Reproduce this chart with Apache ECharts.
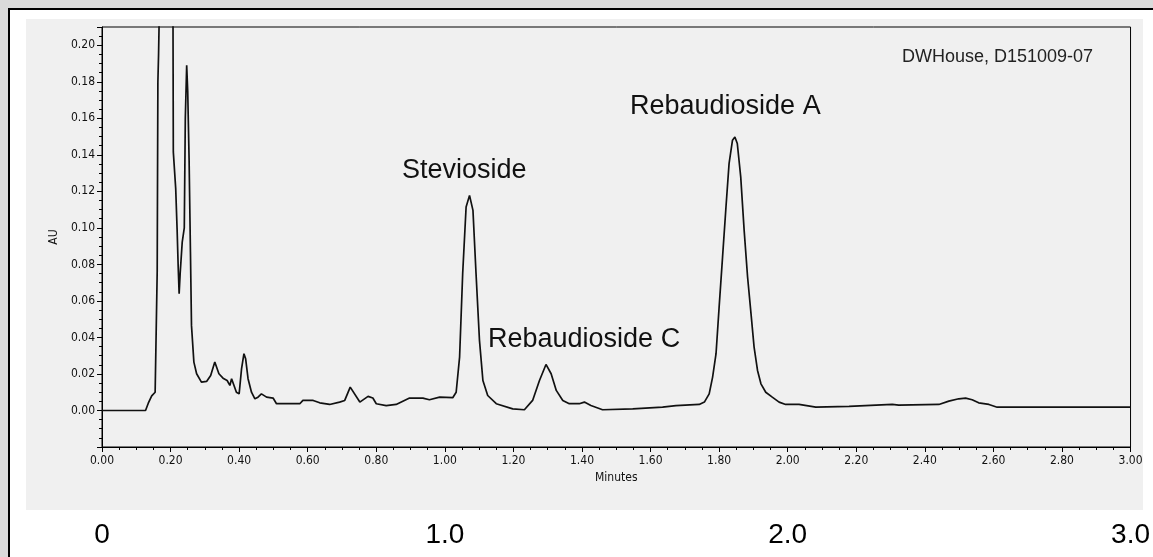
<!DOCTYPE html>
<html>
<head>
<meta charset="utf-8">
<script src="https://cdn.jsdelivr.net/npm/echarts@6/dist/echarts.min.js"></script>
<style>
  html, body { margin: 0; padding: 0; background: #fff; }
  #chart { width: 1153px; height: 557px; }
</style>
</head>
<body>
<div id="chart"></div>
<script>
// retention time (minutes) and detector response (AU)
var times = [0.000, 0.127, 0.135, 0.145, 0.155, 0.160, 0.161, 0.163, 0.165, 0.171, 0.185, 0.200, 0.207,
  0.208, 0.215, 0.219, 0.222, 0.225, 0.228, 0.234, 0.240, 0.243, 0.247, 0.250, 0.254, 0.258, 0.261,
  0.268, 0.276, 0.290, 0.305, 0.317, 0.329, 0.341, 0.353, 0.365, 0.373, 0.378, 0.382, 0.392, 0.400,
  0.407, 0.414, 0.419, 0.426, 0.436, 0.446, 0.455, 0.465, 0.480, 0.499, 0.509, 0.577, 0.586, 0.616,
  0.635, 0.664, 0.693, 0.708, 0.724, 0.752, 0.776, 0.790, 0.800, 0.829, 0.858, 0.888, 0.897, 0.936,
  0.955, 0.985, 1.023, 1.033, 1.043, 1.052, 1.062, 1.072, 1.082, 1.091, 1.101, 1.111, 1.125, 1.150,
  1.198, 1.232, 1.256, 1.276, 1.295, 1.310, 1.325, 1.344, 1.363, 1.392, 1.407, 1.426, 1.460, 1.548,
  1.635, 1.674, 1.742, 1.757, 1.771, 1.781, 1.791, 1.800, 1.810, 1.820, 1.829, 1.839, 1.846, 1.853,
  1.863, 1.873, 1.883, 1.893, 1.902, 1.912, 1.922, 1.936, 1.955, 1.975, 1.994, 2.033, 2.082, 2.179,
  2.305, 2.324, 2.441, 2.470, 2.499, 2.519, 2.538, 2.557, 2.587, 2.611, 3.000];
var au = [0.0000, 0.0000, 0.0040, 0.0080, 0.0100, 0.0110, 0.0760, 0.1800, 0.1950, 0.2600, 0.3500, 0.3000, 0.2200,
  0.1416, 0.1215, 0.0996, 0.0800, 0.0639, 0.0750, 0.0922, 0.1000, 0.1600, 0.1890, 0.1750, 0.1380, 0.0868, 0.0466,
  0.0265, 0.0201, 0.0155, 0.0159, 0.0192, 0.0265, 0.0201, 0.0177, 0.0164, 0.0137, 0.0174, 0.0164, 0.0100, 0.0091,
  0.0228, 0.0311, 0.0283, 0.0174, 0.0100, 0.0064, 0.0073, 0.0091, 0.0073, 0.0068, 0.0037, 0.0037, 0.0055, 0.0055,
  0.0042, 0.0033, 0.0046, 0.0055, 0.0128, 0.0046, 0.0077, 0.0068, 0.0037, 0.0027, 0.0033, 0.0060, 0.0068, 0.0068,
  0.0059, 0.0073, 0.0070, 0.0100, 0.0292, 0.0749, 0.1114, 0.1178, 0.1096, 0.0749, 0.0384, 0.0164, 0.0082, 0.0037,
  0.0009, 0.0004, 0.0055, 0.0164, 0.0252, 0.0201, 0.0110, 0.0055, 0.0037, 0.0037, 0.0046, 0.0027, 0.0004, 0.0009,
  0.0018, 0.0027, 0.0033, 0.0046, 0.0091, 0.0183, 0.0311, 0.0566, 0.0840, 0.1114, 0.1352, 0.1480, 0.1498, 0.1462,
  0.1279, 0.0986, 0.0731, 0.0530, 0.0347, 0.0219, 0.0146, 0.0100, 0.0073, 0.0046, 0.0033, 0.0033, 0.0018, 0.0022,
  0.0033, 0.0029, 0.0033, 0.0051, 0.0064, 0.0068, 0.0059, 0.0042, 0.0033, 0.0018, 0.0018];

var peakNames = ['Stevioside', 'Rebaudioside C', 'Rebaudioside A'];
var sampleName = 'DWHouse, D151009-07';
var bottomLabels = ['0', '1.0', '2.0', '3.0'];

var trace = [];
for (var i = 0; i < times.length; i++) {
  trace.push([times[i], au[i]]);
}

var tickFont = '"Liberation Sans Narrow", "DejaVu Sans Condensed", sans-serif';
var bigFont = '"Liberation Sans", Arial, sans-serif';

var myChart = echarts.init(document.getElementById('chart'));
var option = {
  animation: false,
  grid: {
    left: 102, right: 21, top: 27, bottom: 110,
    show: true, borderColor: '#000', borderWidth: 1, backgroundColor: 'transparent'
  },
  xAxis: [{
    type: 'value', min: 0, max: 3, interval: 0.2,
    name: 'Minutes', nameLocation: 'middle', nameGap: 22,
    nameTextStyle: { color: '#111', fontSize: 12, fontFamily: tickFont },
    axisLine: { onZero: false, lineStyle: { color: '#000', width: 1 } },
    axisTick: { length: 5, lineStyle: { color: '#000' } },
    minorTick: { show: true, splitNumber: 4, length: 3, lineStyle: { color: '#000' } },
    axisLabel: {
      margin: 8, color: '#111', fontSize: 12, fontFamily: tickFont,
      formatter: function (v) { return v.toFixed(2); }
    },
    splitLine: { show: false }
  }, {
    type: 'value', min: 0, max: 3, interval: 1, position: 'bottom', offset: 68,
    axisLine: { show: false, onZero: false }, axisTick: { show: false }, splitLine: { show: false },
    axisLabel: {
      margin: 6, color: '#000', fontSize: 28, fontFamily: bigFont,
      showMinLabel: true, showMaxLabel: true,
      formatter: function (v) { return bottomLabels[Math.round(v)]; }
    }
  }],
  yAxis: {
    type: 'value', min: -0.02, max: 0.21, interval: 0.02,
    name: 'AU', nameLocation: 'middle', nameGap: 37,
    nameTextStyle: { color: '#111', fontSize: 12, fontFamily: tickFont },
    axisLine: { show: true, onZero: false, lineStyle: { color: '#000', width: 1 } },
    axisTick: { length: 5, lineStyle: { color: '#000' } },
    minorTick: { show: true, splitNumber: 4, length: 3, lineStyle: { color: '#000' } },
    axisLabel: {
      margin: 7, color: '#111', fontSize: 12, fontFamily: tickFont,
      formatter: function (v) {
        if (v < -1e-9 || v > 0.2 + 1e-9) return '';
        return v.toFixed(2);
      }
    },
    splitLine: { show: false }
  },
  graphic: {
    elements: [
      { type: 'rect', z: -100, shape: { x: 0, y: 0, width: 1153, height: 557 }, style: { fill: '#dadada' } },
      { type: 'rect', z: -99, shape: { x: 9, y: 9, width: 1160, height: 560 },
        style: { fill: '#fff', stroke: '#000', lineWidth: 2 } },
      { type: 'rect', z: -98, shape: { x: 26, y: 19, width: 1117, height: 491 }, style: { fill: '#f0f0f0' } },
      { type: 'text', z: 100, x: 402, y: 171,
        style: { text: peakNames[0], font: '27px ' + bigFont, fill: '#111', verticalAlign: 'middle' } },
      { type: 'text', z: 100, x: 488, y: 340,
        style: { text: peakNames[1], font: '27px ' + bigFont, fill: '#111', verticalAlign: 'middle' } },
      { type: 'text', z: 100, x: 630, y: 107,
        style: { text: peakNames[2], font: '27px ' + bigFont, fill: '#111', verticalAlign: 'middle' } },
      { type: 'text', z: 100, x: 902, y: 57,
        style: { text: sampleName, font: '18px ' + bigFont, fill: '#222', verticalAlign: 'middle' } }
    ]
  },
  series: [{
    type: 'line',
    xAxisIndex: 0,
    data: trace,
    showSymbol: false,
    clip: true,
    lineStyle: { color: '#111', width: 1.7 }
  }]
};
myChart.setOption(option);
</script>
</body>
</html>
